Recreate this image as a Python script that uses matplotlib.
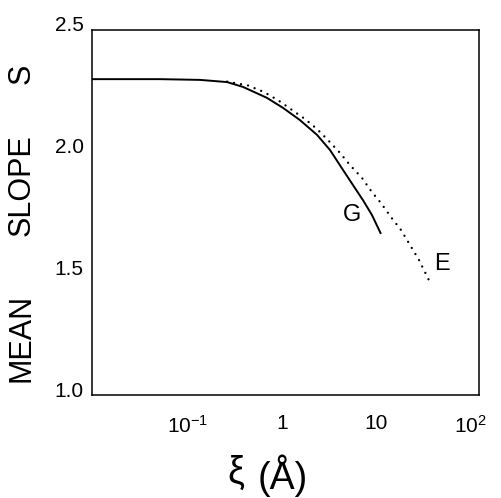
import matplotlib
matplotlib.use("Agg")
import matplotlib.pyplot as plt
import matplotlib.transforms as mtransforms

# Curve G (solid)
g_x = [0.0095, 0.05, 0.134, 0.26, 0.385, 0.692, 1.025, 1.55, 2.36, 3.24, 4.46, 5.69, 7.27, 9.06, 11.3]
g_y = [2.298, 2.298, 2.295, 2.286, 2.266, 2.221, 2.180, 2.130, 2.069, 2.007, 1.925, 1.863, 1.801, 1.740, 1.662]
# Curve E (dotted)
e_x = [0.26, 0.435, 0.644, 0.929, 1.28, 1.76, 2.36, 3.08, 4.14, 5.29, 7.10, 9.06, 11.3, 14.4, 18.5, 23.0, 28.7, 37.5]
e_y = [2.288, 2.272, 2.245, 2.209, 2.171, 2.134, 2.093, 2.048, 1.995, 1.945, 1.892, 1.834, 1.789, 1.732, 1.678, 1.617, 1.555, 1.464]

xticks = [0.1, 1, 10, 100]
xticklabels = [r"$10^{-1}$", "1", "10", r"$10^{2}$"]
yticks = [1.0, 1.5, 2.0, 2.5]
yticklabels = ["1.0", "1.5", "2.0", "2.5"]

plt.rcParams['font.family'] = ['Liberation Sans', 'DejaVu Sans']
plt.rcParams['mathtext.fontset'] = 'custom'
plt.rcParams['mathtext.rm'] = 'Liberation Sans'
plt.rcParams['mathtext.it'] = 'Liberation Sans'

W, H = 502, 498
fig = plt.figure(figsize=(W/100, H/100), dpi=100)
ax = fig.add_axes([92/W, 1 - 395/H, (479-92)/W, (395-30)/H])
ax.plot(g_x, g_y, color='black', lw=1.4, solid_capstyle='butt', solid_joinstyle='round')
ax.plot(e_x, e_y, color='black', lw=1.7, linestyle=(0, (0.01, 3.0)), dash_capstyle='round')
ax.set_xscale('log')
ax.set_xlim(0.0095, 125)
ax.set_ylim(1.0, 2.5)
ax.set_xticks(xticks)
ax.set_xticklabels(xticklabels)
ax.minorticks_off()
ax.set_yticks(yticks)
ax.set_yticklabels(yticklabels)
ax.tick_params(length=0, labelsize=15)
ax.tick_params(axis='y', pad=6)
ax.tick_params(axis='x', pad=14)
off = mtransforms.ScaledTranslation(0, 6/100, fig.dpi_scale_trans)
for lab in ax.get_yticklabels():
    lab.set_transform(lab.get_transform() + off)
for s in ax.spines.values():
    s.set_linewidth(1.1)

ax.text(5.55, 1.738, "G", fontsize=17, ha='center', va='center')
ax.text(50.4, 1.538, "E", fontsize=17, ha='center', va='center')

def fx(px):
    return px / W

def fy(py):
    return 1 - py / H

for word, yc in [("MEAN", 337.5), ("SLOPE", 185), ("S", 74)]:
    fig.text(fx(22), fy(yc), word, rotation=90, fontsize=22,
             ha='center', va='center')

fig.text(fx(236), fy(473), "ξ", fontsize=27, ha='center', va='center')
fig.text(fx(283), fy(476), "(Å)", fontsize=27, ha='center', va='center')

fig.savefig("out.png", dpi=100)
